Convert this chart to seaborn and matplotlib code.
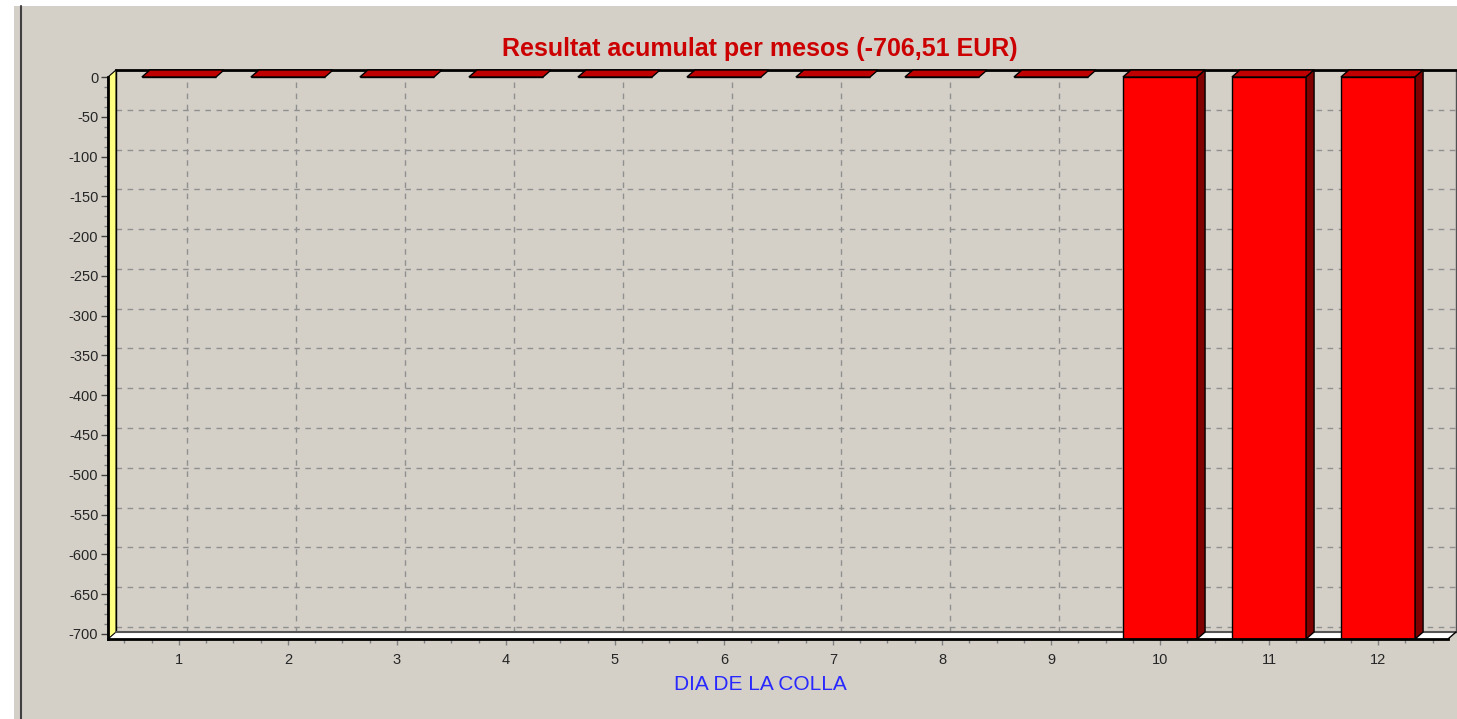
import seaborn as sns
import matplotlib.pyplot as plt
import pandas as pd
import numpy as np
from matplotlib.patches import Polygon
from matplotlib.lines import Line2D
from matplotlib.ticker import MultipleLocator, AutoMinorLocator

# Data
months = ["1", "2", "3", "4", "5", "6", "7", "8", "9", "10", "11", "12"]
result = [0, 0, 0, 0, 0, 0, 0, 0, 0, -706.51, -706.51, -706.51]
title = "Resultat acumulat per mesos (-706,51 EUR)"
xlabel = "DIA DE LA COLLA"
yticks = list(range(0, -701, -50))

df = pd.DataFrame({"Mes": months, "Resultat": result})

sns.set_style("white")
plt.rcParams["font.family"] = ["Liberation Sans", "DejaVu Sans"]
plt.rcParams["axes.unicode_minus"] = False

W, H = 1457, 719
BG = "#D4D0C8"
DX, DY = 8, 7  # depth offset in pixels

fig = plt.figure(figsize=(W / 100, H / 100), dpi=100, facecolor=BG)

def px_rect(x0, y0, x1, y1):
    # pixel box (top-left origin) -> figure fraction rect
    return [x0 / W, 1 - y1 / H, (x1 - x0) / W, (y1 - y0) / H]

fx0, fy0, fx1, fy1 = 108, 77, 1448, 639
xlim = (-0.651, 11.642)
ylim = (-706.51, 0)

# back wall with grid
axb = fig.add_axes(px_rect(fx0 + DX, fy0 - DY, fx1 + DX, fy1 - DY))
axb.set_facecolor(BG)
axb.set_xlim(xlim)
axb.set_ylim(ylim)
axb.set_xticks(range(12))
axb.set_yticks(yticks)
axb.tick_params(length=0, labelbottom=False, labelleft=False)
axb.grid(True, color="#909090", linestyle=(0, (4, 4)), linewidth=1)
axb.spines["bottom"].set_visible(False)
axb.spines["top"].set_color("black")
axb.spines["top"].set_linewidth(2)
axb.spines["left"].set_color("black")
axb.spines["left"].set_linewidth(1)
axb.spines["right"].set_color("#505050")
axb.spines["right"].set_linewidth(1)

# front axes with bars
ax = fig.add_axes(px_rect(fx0, fy0, fx1, fy1))
ax.set_facecolor("none")
sns.barplot(data=df, x="Mes", y="Resultat", ax=ax, color="#FF0000",
            saturation=1, width=0.68, edgecolor="black", linewidth=1,
            errorbar=None, zorder=3)
ax.set_xlim(xlim)
ax.set_ylim(ylim)
ax.set_yticks(yticks)
ax.yaxis.set_minor_locator(AutoMinorLocator(4))
ax.xaxis.set_minor_locator(MultipleLocator(0.25))
ax.set_xlabel("")
ax.set_ylabel("")
for s in ["top", "right"]:
    ax.spines[s].set_visible(False)
for s in ["left", "bottom"]:
    ax.spines[s].set_color("black")
    ax.spines[s].set_linewidth(2)
    ax.spines[s].set_zorder(6)
ax.tick_params(axis="y", which="major", direction="out", length=5, width=1,
               color="#404040", labelsize=10.5, pad=2, left=True)
ax.tick_params(axis="y", which="minor", direction="out", length=3, width=1,
               color="#808080", left=True)
ax.tick_params(axis="x", which="major", direction="out", length=4, width=1,
               color="#808080", labelsize=10.5, pad=6, bottom=True)
ax.tick_params(axis="x", which="minor", direction="out", length=3, width=1,
               color="#808080", bottom=True)

fig.canvas.draw()
tr = ax.transData

# floor and left wall (display coords)
(lx, by), = tr.transform([(xlim[0], ylim[0])])
(rx, ty), = tr.transform([(xlim[1], ylim[1])])
floor = Polygon([(lx, by), (rx, by), (rx + DX, by + DY), (lx + DX, by + DY)],
                closed=True, facecolor="white", edgecolor="none",
                transform=None, clip_on=False, zorder=1)
ax.add_patch(floor)
ax.add_line(Line2D([lx + DX, rx + DX], [by + DY, by + DY], color="#555555",
                   linewidth=1.5, transform=None, clip_on=False, zorder=1.5))
ax.add_line(Line2D([rx, rx + DX], [by, by + DY], color="black",
                   linewidth=1, transform=None, clip_on=False, zorder=1.5))
wall = Polygon([(lx, by), (lx, ty), (lx + DX, ty + DY), (lx + DX, by + DY)],
               closed=True, facecolor="#FFFF80", edgecolor="black",
               linewidth=0.8, transform=None, clip_on=False, zorder=1)
ax.add_patch(wall)

# 3D faces of the bars
for p in ax.patches[:]:
    if not hasattr(p, "get_width") or p in (floor, wall):
        continue
    x0, x1 = p.get_x(), p.get_x() + p.get_width()
    y0, y1 = p.get_y(), p.get_y() + p.get_height()
    top = max(y0, y1)
    bot = min(y0, y1)
    (dx0, dtop), = tr.transform([(x0, top)])
    (dx1, dbot), = tr.transform([(x1, bot)])
    ax.add_patch(Polygon([(dx0, dtop), (dx1, dtop), (dx1 + DX, dtop + DY),
                          (dx0 + DX, dtop + DY)], closed=True,
                         facecolor="#C00000", edgecolor="black", linewidth=1,
                         transform=None, clip_on=False, zorder=4))
    if dtop - dbot > 1:
        ax.add_patch(Polygon([(dx1, dtop), (dx1 + DX, dtop + DY),
                              (dx1 + DX, dbot + DY), (dx1, dbot)], closed=True,
                             facecolor="#800000", edgecolor="black",
                             linewidth=1, transform=None, clip_on=False,
                             zorder=4))

# title and axis label
fig.text(760 / W, 1 - 49 / H, title, color="#CC0000", fontsize=18,
         fontweight="bold", ha="center", va="center")
fig.text(760 / W, 1 - 685 / H, xlabel, color="#2828FF", fontsize=15,
         ha="center", va="center")

# outer frame: white strips along top and left edges, dark line at x=21
fig.patches.append(Polygon([(0, H), (W, H), (W, H - 6), (14, H - 6), (14, 0),
                            (0, 0)], closed=True, facecolor="white",
                           edgecolor="none", transform=None, figure=fig))
fig.add_artist(Line2D([21, 21], [0, H - 6], color="#404040", linewidth=1.5,
                      transform=None))

fig.savefig("out.png", dpi=100, facecolor=BG)
plt.close(fig)
